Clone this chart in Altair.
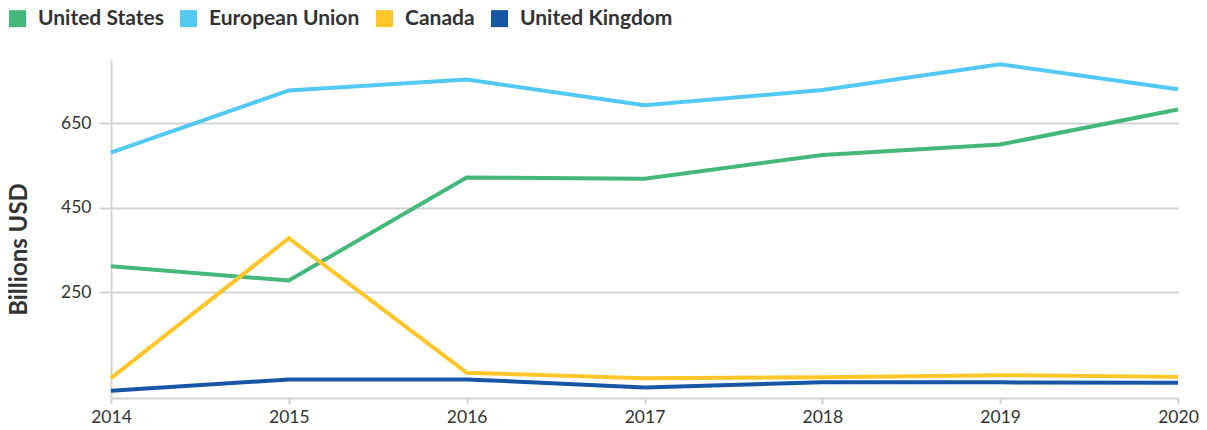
import altair as alt
import pandas as pd

years = [2014, 2015, 2016, 2017, 2018, 2019, 2020]
series_names = ["United States", "European Union", "Canada", "United Kingdom"]
united_states = [312, 278, 522, 519, 575, 600, 683]
european_union = [581, 728, 754, 693, 729, 790, 731]
canada = [47, 378, 60, 47, 49, 54, 50]
united_kingdom = [17, 44, 44, 25, 37, 37, 36]
colors = ["#44b87a", "#52c9f2", "#fec629", "#1656a4"]
y_ticks = [250, 450, 650]

rows = []
for name, vals in zip(series_names, [united_states, european_union, canada, united_kingdom]):
    for yr, v in zip(years, vals):
        rows.append({"year": yr, "value": v, "series": name})
df = pd.DataFrame(rows)

FONT = "Lato"

chart = alt.Chart(df).mark_line(strokeWidth=4, strokeCap="butt", strokeJoin="miter").encode(
    x=alt.X("year:Q",
            scale=alt.Scale(domain=[2014, 2020], nice=False, zero=False),
            axis=alt.Axis(values=years, format="d", title=None, grid=False,
                          domainColor="#d3d3d3", domainWidth=2,
                          ticks=True, tickColor="#d3d3d3", tickSize=6, tickWidth=2,
                          labelFontSize=17.5, labelColor="#333333", labelPadding=4,
                          labelFont=FONT, labelFlush=False, labelOverlap=False)),
    y=alt.Y("value:Q",
            scale=alt.Scale(domain=[0, 800], nice=False),
            axis=alt.Axis(values=y_ticks, title="Billions USD",
                          grid=True, gridColor="#d3d3d3", gridWidth=2,
                          domainColor="#d3d3d3", domainWidth=2,
                          ticks=True, tickColor="#d3d3d3", tickSize=12, tickWidth=2,
                          labelFontSize=17.5, labelColor="#333333", labelPadding=8,
                          labelFont=FONT,
                          titleFont=FONT, titleFontSize=24, titleFontWeight="bold",
                          titleColor="#333333", titleX=-92, titleY=189,
                          titleAngle=-90, titleAlign="center", titleBaseline="middle")),
    color=alt.Color("series:N",
                    scale=alt.Scale(domain=series_names, range=colors),
                    legend=alt.Legend(orient="none", direction="horizontal",
                                      legendX=-104, legendY=-52, title=None,
                                      symbolType="square", symbolSize=72,
                                      symbolStrokeWidth=8.5,
                                      labelFont=FONT, labelFontSize=21,
                                      labelFontWeight="bold", labelColor="#333333",
                                      labelOffset=10, columnPadding=3)),
    order=alt.Order("year:Q"),
).properties(
    width=1067, height=338,
    autosize=alt.AutoSizeParams(type="none"),
    padding={"left": 103, "top": 52, "right": 21, "bottom": 40},
).configure_view(stroke=None).configure_legend(symbolOpacity=1)

chart.save("out.html", embed_options={"renderer": "svg", "actions": False})
